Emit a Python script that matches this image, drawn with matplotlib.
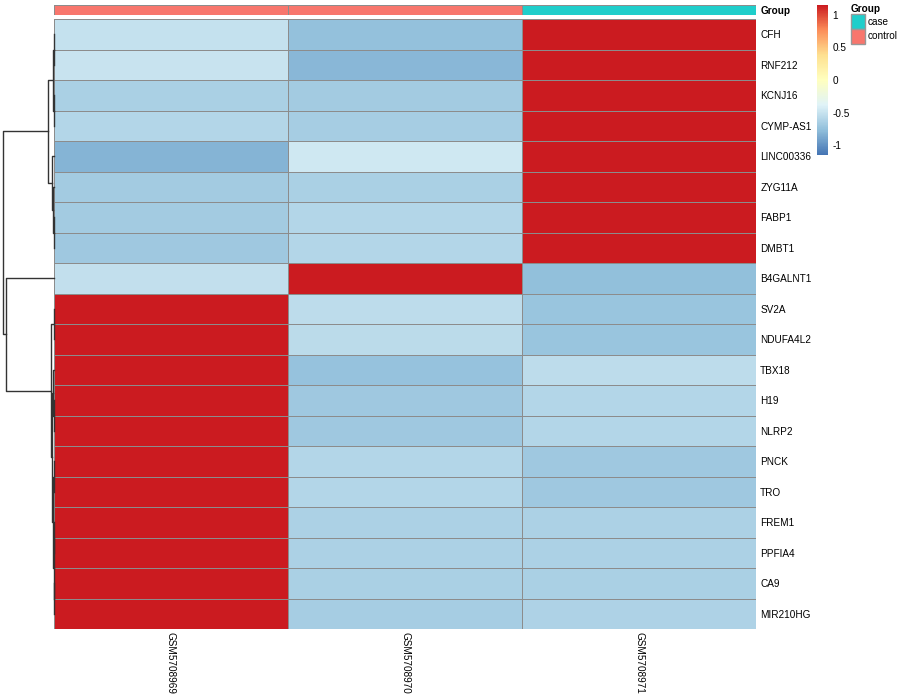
import numpy as np
import matplotlib
matplotlib.use("Agg")
import matplotlib.pyplot as plt
from matplotlib.colors import LinearSegmentedColormap, ListedColormap, Normalize
from matplotlib.patches import Patch

plt.rcParams['font.family'] = ['Liberation Sans', 'DejaVu Sans']
plt.rcParams['font.size'] = 7.2

genes = ['CFH', 'RNF212', 'KCNJ16', 'CYMP-AS1', 'LINC00336', 'ZYG11A', 'FABP1',
         'DMBT1', 'B4GALNT1', 'SV2A', 'NDUFA4L2', 'TBX18', 'H19', 'NLRP2', 'PNCK',
         'TRO', 'FREM1', 'PPFIA4', 'CA9', 'MIR210HG']
samples = ['GSM5708969', 'GSM5708970', 'GSM5708971']
groups = ['control', 'control', 'case']
group_colors = {'case': '#1FCECB', 'control': '#F8766D'}

# row z-scores, one list per sample column
col_969 = [-0.52, -0.50, -0.64, -0.60, -0.82, -0.68, -0.68, -0.70, -0.53, 1.15,
           1.15, 1.15, 1.15, 1.15, 1.15, 1.15, 1.15, 1.15, 1.15, 1.15]
col_970 = [-0.75, -0.80, -0.68, -0.66, -0.46, -0.64, -0.60, -0.60, 1.15, -0.55,
           -0.56, -0.74, -0.70, -0.70, -0.60, -0.60, -0.63, -0.63, -0.64, -0.66]
col_971 = [1.15, 1.15, 1.15, 1.15, 1.15, 1.15, 1.15, 1.15, -0.76, -0.72,
           -0.72, -0.55, -0.60, -0.60, -0.70, -0.70, -0.63, -0.63, -0.64, -0.62]

# hclust style merge table (negative = leaf index, positive = earlier step)
row_merge = [(-1, -2), (-3, -4), (1, 2), (-7, -8), (-6, 4), (-5, 5), (3, 6),
             (-10, -11), (-13, -14), (-12, 9), (-15, -16), (-17, -18), (-19, -20),
             (12, 13), (11, 14), (10, 15), (8, 16), (-9, 17), (7, 18)]
row_height = [0.015, 0.02, 0.034, 0.015, 0.03, 0.11, 0.28,
              0.02, 0.015, 0.04, 0.015, 0.01, 0.01,
              0.02, 0.034, 0.083, 0.16, 2.34, 2.5]

vals = np.array([col_969, col_970, col_971]).T
cmap = LinearSegmentedColormap.from_list(
    'rdylbu', ['#4575B4', '#91BFDB', '#E0F3F8', '#FFFFBF', '#FEE090', '#FC8D59', '#CB1B20'])
norm = Normalize(vmin=-1.15, vmax=1.15)
grid_col = '#8C8C8C'

W, H = 900, 700
fig = plt.figure(figsize=(9, 7), dpi=100)

def box(x0, y0, x1, y1):
    return [x0 / W, 1 - y1 / H, (x1 - x0) / W, (y1 - y0) / H]

# heatmap
ax = fig.add_axes(box(54, 19, 756, 629))
ax.pcolormesh(np.arange(4), np.arange(21), vals, cmap=cmap, norm=norm,
              edgecolors=grid_col, linewidth=0.7)
ax.set_xlim(0, 3)
ax.set_ylim(20, 0)
ax.yaxis.tick_right()
ax.set_yticks(np.arange(20) + 0.5)
ax.set_yticklabels(genes)
ax.set_xticks(np.arange(3) + 0.5)
ax.set_xticklabels(samples, rotation=270, va='top', ha='center')
ax.tick_params(axis='y', length=0, pad=3)
ax.tick_params(axis='x', length=0, pad=2)
for s in ax.spines.values():
    s.set_visible(False)

# column annotation
ax_a = fig.add_axes(box(54, 5, 756, 15))
codes = [0 if g == 'case' else 1 for g in groups]
ax_a.pcolormesh(np.arange(4), [0, 1], [codes],
                cmap=ListedColormap([group_colors['case'], group_colors['control']]),
                vmin=0, vmax=1, edgecolors=grid_col, linewidth=0.7)
ax_a.set_xlim(0, 3)
ax_a.set_ylim(1, 0)
ax_a.set_xticks([])
ax_a.yaxis.tick_right()
ax_a.set_yticks([0.5])
ax_a.set_yticklabels(['Group'], fontweight='bold')
ax_a.tick_params(length=0, pad=3)
for s in ax_a.spines.values():
    s.set_visible(False)

# row dendrogram
ax_d = fig.add_axes(box(0, 19, 54, 629))
pos = {}
for i, (a, b) in enumerate(row_merge):
    pts = []
    for k in (a, b):
        if k < 0:
            pts.append((-k - 0.5, 0.0))
        else:
            pts.append(pos[k])
    (y1, h1), (y2, h2) = pts
    h = row_height[i]
    ax_d.plot([h1, h, h, h2], [y1, y1, y2, y2], color='#333333', lw=1, clip_on=False)
    pos[i + 1] = ((y1 + y2) / 2, h)
ax_d.set_xlim(row_height[-1] * 54 / 51.3, 0)
ax_d.set_ylim(20, 0)
ax_d.axis('off')

# colour key
ax_c = fig.add_axes(box(817, 5, 828, 155))
cb = fig.colorbar(plt.cm.ScalarMappable(norm=norm, cmap=cmap), cax=ax_c,
                  ticks=[-1, -0.5, 0, 0.5, 1])
cb.outline.set_visible(False)
cb.ax.set_yticklabels(['-1', '-0.5', '0', '0.5', '1'])
cb.ax.tick_params(length=0, pad=3)

# group legend
handles = [Patch(facecolor=group_colors[g], edgecolor='#999999', label=g)
           for g in ['case', 'control']]
fig.legend(handles=handles, title='Group', loc='upper left',
           bbox_to_anchor=(851 / W, 1 - 4 / H), frameon=False,
           handlelength=1.4, handleheight=1.9, handletextpad=0.3,
           labelspacing=0, borderpad=0, borderaxespad=0,
           title_fontproperties={'weight': 'bold', 'size': 7.2}, alignment='left')

fig.savefig('out.png', dpi=100)
